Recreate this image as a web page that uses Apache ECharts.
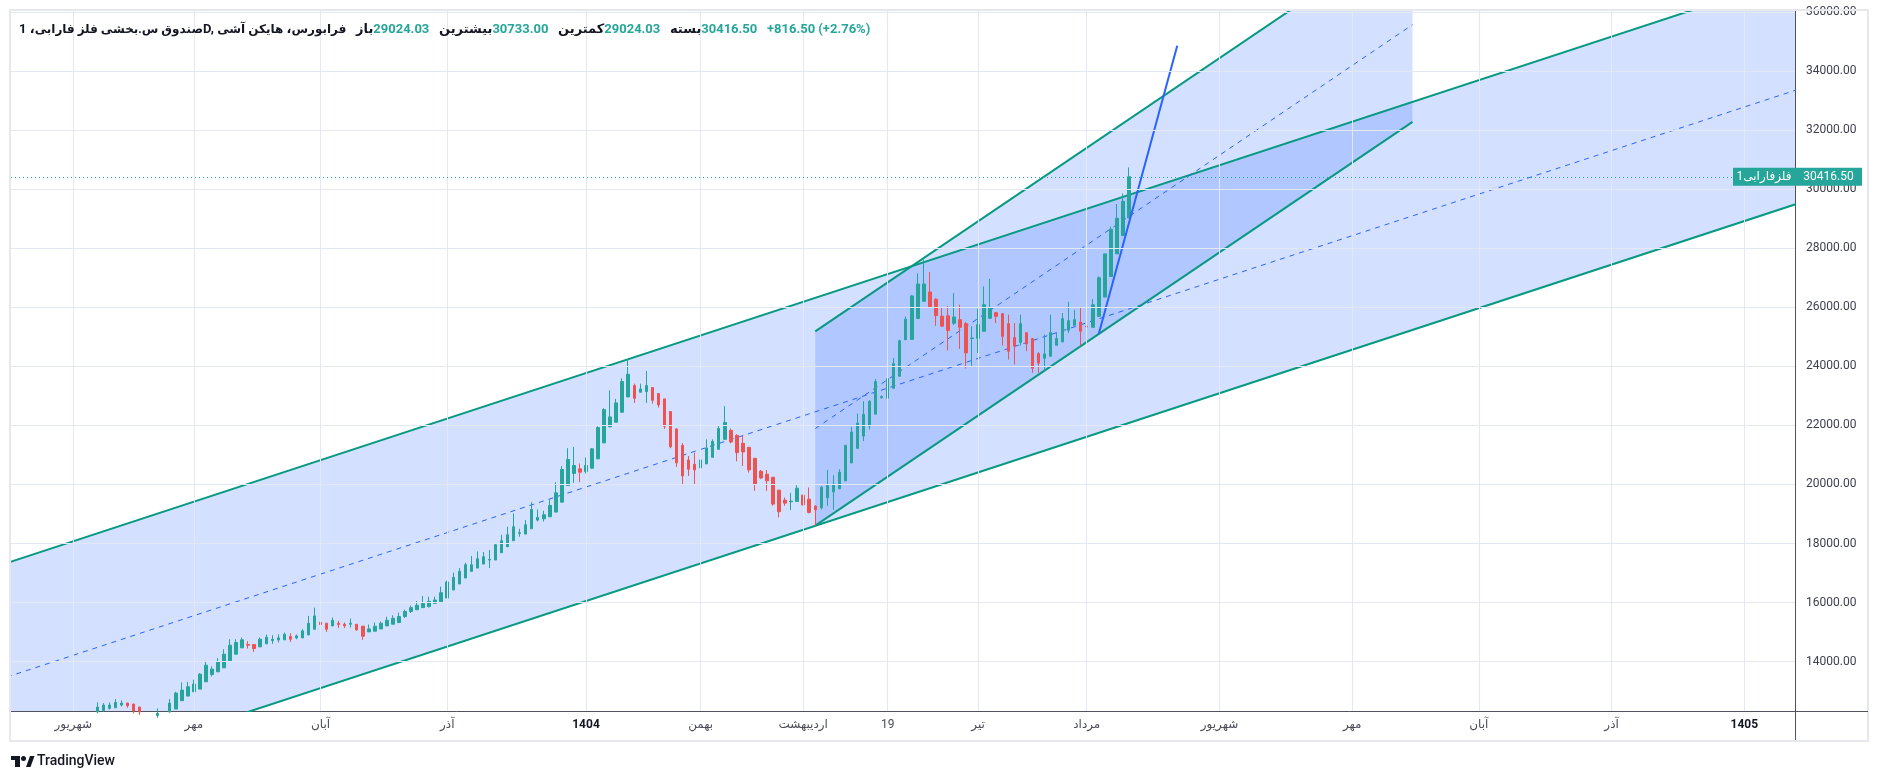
<!DOCTYPE html>
<html>
<head>
<meta charset="utf-8">
<script src="https://cdn.jsdelivr.net/npm/echarts@6/dist/echarts.min.js"></script>
<style>html,body{margin:0;padding:0;background:#fff;}#c{width:1879px;height:781px;}</style>
</head>
<body>
<div id="c"></div>
<script>
// ---------- DATA (bar index 0 = first visible bar) ----------
const opens = [
12300,12350,12420,12442,12532,12599,12566,12464,12300,12200,
12180,12250,12300,12397,12678,12836,12982,13072,13320,13568,
13658,13793,14030,14255,14469,14581,14581,14502,14604,14716,
14739,14739,14851,14806,14806,14908,15099,15336,15302,15212,
15302,15268,15268,15268,15201,15009,15032,15110,15212,15268,
15324,15527,15700,15760,15830,15863,15976,16021,16156,16427,
16630,16832,17058,17170,17306,17441,17441,17689,17892,18095,
18342,18320,18500,18793,18838,18906,19064,19402,19965,20371,
20529,20439,20551,20867,21408,21949,22107,22445,22963,23346,
23121,23144,23279,23076,22896,22467,21881,21324,20830,20683,
20560,20695,20920,21189,21527,21830,21661,21392,21257,20886,
20447,20346,20245,19807,19470,19414,19425,19638,19503,19267,
19211,19548,19750,19852,20121,20729,21223,21639,21976,22381,
22943,22920,23258,23662,24898,24910,25618,26202,26517,26270,
25697,25708,25455,25579,25444,24940,24949,25185,25624,25815,
25781,25444,24971,24814,25140,24938,24431,24274,24341,24713,
24825,25219,25388,25500,25354,25320,25691,26344,27041,27806,
28425,29024.03];
const highs = [
12622,12599,12622,12735,12690,12610,12580,12470,12320,12260,
12420,12330,12735,12982,13298,13320,13388,13613,14030,13838,
14120,14424,14761,14761,14818,14694,14590,14818,14919,14897,
14930,14987,14964,14919,15099,15550,15831,15493,15310,15493,
15381,15324,15460,15275,15210,15257,15324,15358,15527,15572,
15662,15760,15900,16055,16224,16200,16200,16539,16742,17013,
17170,17351,17576,17734,17712,17779,17982,18297,18568,19019,
18500,18793,19402,19154,19109,19492,20078,20619,21228,21273,
20709,20912,21228,21971,22580,23189,22896,23594,24248,23414,
23414,23842,23290,23085,22900,22470,21890,21400,20965,21077,
20908,21527,21527,21999,22650,21897,21700,21640,21270,20900,
20492,20492,20250,19810,19560,19717,19976,19650,19897,19300,
19950,20492,20313,20515,21324,21954,22403,22819,22850,23572,
23010,23640,24280,24900,25685,26416,27146,27618,27191,26300,
26000,26045,26480,26085,25500,25354,25950,26704,26962,25830,
25790,25748,25466,25748,25150,24950,24476,25073,25748,25129,
25804,26186,25916,25973,25600,26276,27041,27806,28729,29494,
29854,30733];
const lows = [
12250,12300,12380,12442,12487,12442,12250,12200,12100,12080,
12100,12200,12280,12397,12678,12836,12982,13072,13320,13500,
13658,13793,14030,14255,14469,14446,14334,14502,14604,14604,
14649,14739,14671,14761,14806,14908,15099,15077,15009,15212,
15144,15144,15156,15050,14739,15009,15032,15110,15212,15268,
15324,15480,15650,15760,15830,15840,15950,16000,16156,16427,
16630,16832,17058,17170,17306,17170,17441,17689,17892,18095,
18230,18320,18500,18748,18748,18906,19064,19402,19965,20056,
20078,20371,20551,20867,21408,21949,22107,22445,22963,22760,
23121,22760,22738,22603,21881,21228,20596,19998,20290,20009,
20530,20695,20920,21189,21527,21392,20785,20627,20403,19784,
20178,19784,19279,18885,19279,19133,19425,19280,19020,18604,
19150,19279,19144,19852,20121,20729,21200,21470,21864,22381,
22898,22920,23258,23662,24898,24910,25618,26202,26000,25370,
25359,24539,25400,24589,23925,23981,24454,25185,25624,25466,
24701,24229,24060,24700,24510,23779,23779,23835,24341,24713,
24825,25129,25388,24701,25100,25320,25691,26344,27041,27806,
28425,29024.03];
const closes = [
12464,12532,12532,12622,12599,12510,12330,12300,12200,12150,
12250,12300,12599,12937,13039,13151,13241,13579,13883,13748,
13996,14255,14559,14649,14739,14559,14446,14761,14829,14761,
14806,14930,14761,14874,15043,15302,15550,15257,15099,15403,
15257,15212,15302,15077,14863,15110,15201,15302,15403,15471,
15527,15700,15830,15910,15976,16043,16088,16336,16697,16855,
17058,17283,17283,17486,17554,17464,17960,18095,18297,18568,
18365,18635,19154,18884,18974,19289,19717,20506,20844,20642,
20416,20642,21205,21926,22535,22287,22760,23482,23730,22918,
23234,23346,22850,22693,21971,21273,20732,20290,20515,20492,
20830,21234,21459,21897,22100,21437,21077,21100,20492,19998,
20222,20122,19335,19076,19368,19436,19874,19312,19054,19144,
19908,19975,20009,20414,21324,21774,22077,22370,22819,23482,
22976,23583,24089,24865,25595,26382,26787,26787,26022,25719,
25359,25213,25669,25320,24454,24960,25410,26085,25984,25691,
25016,24510,24679,25444,24758,23936,24105,24420,25140,24938,
25613,25545,25579,25185,25331,26085,26996,27806,28639,29010,
29584,30416.5];

// x-axis tick positions (bar index) and their labels
const xTickIdx    = [-4, 16, 37, 58, 81, 100, 117, 131, 146, 164, 186, 208, 229, 251, 273];
const xTickLabels = ['شهریور','مهر','آبان','آذر','1404','بهمن','اردیبهشت','19','تیر','مرداد','شهریور','مهر','آبان','آذر','1405'];
const yearLabels  = ['1404','1405'];
// price-axis tick values
const yTickValues = [14000,16000,18000,20000,22000,24000,26000,28000,30000,32000,34000,36000];

// drawings: [bar index, price] end points
const bigLower   = [[-15, 9622],  [282, 29521]];
const bigMid     = [[-15, 13480], [282, 33380]];
const bigUpper   = [[-15, 17339], [282, 37238]];
const smallLower = [[119, 18604], [218, 32276]];
const smallMid   = [[119, 21892], [218, 35564]];
const smallUpper = [[119, 25180], [218, 38852]];
const trendLine  = [[166, 25100], [179, 34850]];
const lastPrice  = 30416.5;

// legend texts
const legendTitle  = ['1 ،', 'صندوق س.بخشی فلز فارابی', 'D, ', 'هایکن آشی', ' ،', 'فرابورس'];
const legendLabels = ['باز', 'بیشترین', 'کمترین', 'بسته'];
const legendChange = '+816.50 (+2.76%)';
const symbolTag    = 'فلزفارابی1';

// visible window
const viewStart = -14.31, viewEnd = 281.4;
const priceMin = 12331, priceMax = 36028;

// ---------- CHART ----------
const FONT = "Roboto, 'DejaVu Sans', sans-serif";
const UP = '#26a69a', DOWN = '#ef5350', TEAL = '#089981', BLUE = '#2962ff';
const FILL = 'rgba(41,98,255,0.2)';
const GRID = '#e3e9f2';

const candleData = opens.map((o, i) => [i, o, closes[i], lows[i], highs[i]]);
const last = opens.length - 1;
const legendVals = [opens[last], highs[last], lows[last], closes[last]].map(v => v.toFixed(2));
let header = legendTitle.map((s, k) => (k % 2 ? '{a|' : '{t|') + s + '}').join('') + '{t|   }';
legendLabels.forEach((l, k) => { header += '{t|' + l + '}{v|' + legendVals[k] + '}{t|   }'; });
header += '{v|' + legendChange + '}';

function clipPoly(pts, x0, y0, w, h) {
  const edges = [
    [p => p[0] >= x0,     (a, b) => { const t = (x0 - a[0]) / (b[0] - a[0]); return [x0, a[1] + t * (b[1] - a[1])]; }],
    [p => p[0] <= x0 + w, (a, b) => { const X = x0 + w, t = (X - a[0]) / (b[0] - a[0]); return [X, a[1] + t * (b[1] - a[1])]; }],
    [p => p[1] >= y0,     (a, b) => { const t = (y0 - a[1]) / (b[1] - a[1]); return [a[0] + t * (b[0] - a[0]), y0]; }],
    [p => p[1] <= y0 + h, (a, b) => { const Y = y0 + h, t = (Y - a[1]) / (b[1] - a[1]); return [a[0] + t * (b[0] - a[0]), Y]; }]
  ];
  let out = pts;
  for (const [inside, inter] of edges) {
    const input = out; out = [];
    for (let i = 0; i < input.length; i++) {
      const cur = input[i], prev = input[(i + input.length - 1) % input.length];
      const ci = inside(cur), pi = inside(prev);
      if (ci) { if (!pi) out.push(inter(prev, cur)); out.push(cur); }
      else if (pi) out.push(inter(prev, cur));
    }
    if (!out.length) break;
  }
  return out;
}
function channelFill(lower, upper) {
  return {
    type: 'custom', z: 1, silent: true, data: [[lower[0][0], lower[0][1]]],
    renderItem: (params, api) => {
      const pts = [api.coord(lower[0]), api.coord(lower[1]), api.coord(upper[1]), api.coord(upper[0])];
      const cs = params.coordSys;
      return { type: 'polygon', shape: { points: clipPoly(pts, cs.x, cs.y, cs.width, cs.height) }, style: { fill: FILL } };
    }
  };
}
function seg(data, color, width, type, z) {
  return { type: 'line', data: data, z: z, silent: true, symbol: 'none', clip: true,
           lineStyle: { color: color, width: width, type: type }, emphasis: { disabled: true } };
}

const chart = echarts.init(document.getElementById('c'), null, { renderer: 'canvas' });
chart.setOption({
  animation: false,
  backgroundColor: '#ffffff',
  textStyle: { fontFamily: FONT },
  title: {
    left: 14, top: 18, text: header,
    textStyle: { rich: {
      t: { color: '#131722', fontSize: 13, fontFamily: FONT },
      a: { color: '#131722', fontSize: 12, fontFamily: FONT },
      v: { color: UP, fontSize: 13, fontFamily: FONT }
    } }
  },
  grid: { left: 11, right: 84, top: 11, bottom: 70, containLabel: false, outerBoundsMode: 'none' },
  xAxis: {
    type: 'value', min: viewStart, max: viewEnd,
    axisLine: { onZero: false, lineStyle: { color: '#50535e', width: 1 } },
    axisTick: { show: false }, splitLine: { show: false },
    axisLabel: {
      customValues: xTickIdx, margin: 8, color: '#4a4d57', fontSize: 12, fontFamily: FONT,
      formatter: v => { const s = xTickLabels[xTickIdx.indexOf(v)] || ''; return yearLabels.includes(s) ? '{yr|' + s + '}' : s; },
      rich: { yr: { fontWeight: 'bold', color: '#131722', fontSize: 12, fontFamily: FONT } }
    }
  },
  yAxis: {
    type: 'value', position: 'right', min: priceMin, max: priceMax,
    axisLine: { show: true, onZero: false, lineStyle: { color: '#50535e', width: 1 } },
    axisTick: { show: false }, splitLine: { show: false },
    axisLabel: { customValues: yTickValues, margin: 11, color: '#3d4150', fontSize: 12, fontFamily: FONT,
                 formatter: v => v.toFixed(2) }
  },
  series: [
    { // grid lines
      type: 'line', data: [[-100, 0]], z: 0, silent: true, symbol: 'none',
      markLine: { silent: true, symbol: ['none', 'none'], label: { show: false }, animation: false,
        lineStyle: { color: GRID, width: 1, type: 'solid' },
        data: xTickIdx.map(v => ({ xAxis: v })).concat(yTickValues.map(v => ({ yAxis: v }))) }
    },
    channelFill(bigLower, bigUpper),
    channelFill(smallLower, smallUpper),
    seg(bigLower, TEAL, 2, 'solid', 2),
    seg(bigUpper, TEAL, 2, 'solid', 2),
    seg(bigMid, BLUE, 1, [5, 5], 2),
    seg(smallLower, TEAL, 2, 'solid', 2),
    seg(smallUpper, TEAL, 2, 'solid', 2),
    seg(smallMid, BLUE, 1, [5, 5], 2),
    {
      type: 'candlestick', data: candleData, z: 3, barWidth: 3, clip: true, silent: true,
      itemStyle: { color: UP, color0: DOWN, borderColor: UP, borderColor0: DOWN, borderWidth: 1 }
    },
    seg(trendLine, BLUE, 2, 'solid', 4),
    { // last price line and tags
      type: 'line', data: [[-100, 0]], z: 6, silent: true, symbol: 'none',
      markLine: { silent: true, symbol: ['none', 'none'], animation: false, label: { show: false },
        lineStyle: { color: UP, width: 1, type: [1, 3] },
        data: [{ yAxis: lastPrice }] },
      markPoint: { silent: true, animation: false,
        data: [
          { coord: [viewEnd, lastPrice], symbol: 'rect', symbolSize: [62, 18], symbolOffset: ['-50%', 0],
            itemStyle: { color: UP },
            label: { show: true, position: 'inside', formatter: symbolTag, color: '#fff', fontSize: 12, fontFamily: FONT } },
          { coord: [viewEnd, lastPrice], symbol: 'rect', symbolSize: [67, 18], symbolOffset: ['50%', 0],
            itemStyle: { color: UP },
            label: { show: true, position: 'inside', formatter: lastPrice.toFixed(2), color: '#fff', fontSize: 12, fontFamily: FONT } }
        ] }
    }
  ],
  graphic: [
    { type: 'rect', silent: true, z: 100, shape: { x: 10, y: 10, width: 1858, height: 731 },
      style: { fill: 'none', stroke: '#e6e8ee', lineWidth: 2 } },
    { type: 'line', silent: true, z: 100, shape: { x1: 1795, y1: 711.5, x2: 1868, y2: 711.5 }, style: { stroke: '#50535e', lineWidth: 1 } },
    { type: 'line', silent: true, z: 100, shape: { x1: 1795.5, y1: 711, x2: 1795.5, y2: 740 }, style: { stroke: '#50535e', lineWidth: 1 } },
    { type: 'group', silent: true, z: 100, children: [
      { type: 'rect', shape: { x: 11, y: 756, width: 9, height: 4 }, style: { fill: '#131722' } },
      { type: 'rect', shape: { x: 15, y: 756, width: 5, height: 11 }, style: { fill: '#131722' } },
      { type: 'circle', shape: { cx: 23.5, cy: 758.5, r: 2.5 }, style: { fill: '#131722' } },
      { type: 'polygon', shape: { points: [[26, 767], [30, 756], [34.5, 756], [30.5, 767]] }, style: { fill: '#131722' } },
      { type: 'text', style: { x: 37, y: 761, text: 'TradingView', fill: '#131722', fontSize: 14, fontFamily: FONT, fontWeight: 500, verticalAlign: 'middle' } }
    ] }
  ]
});
</script>
</body>
</html>
